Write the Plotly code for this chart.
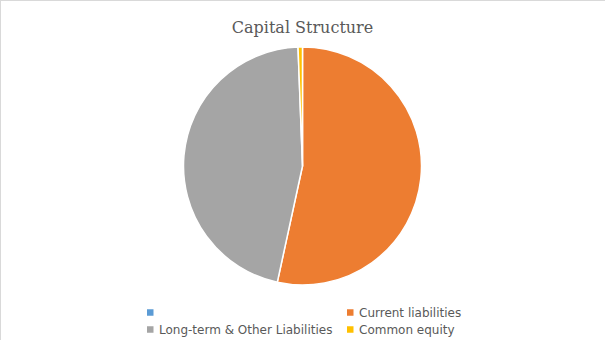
import plotly.graph_objects as go

labels = ["", "Current liabilities", "Long-term & Other Liabilities", "Common equity"]
values = [0, 53.4, 46.0, 0.6]
colors = ["#5B9BD5", "#ED7D31", "#A5A5A5", "#FFC000"]

W, H = 605, 340
T, B = 47, 55
PH = H - T - B


def px_x(px):
    return px / W


def px_y(py):
    return (H - B - py) / PH


fig = go.Figure(go.Pie(
    labels=[l if l else " " for l in labels], values=values, sort=False,
    direction="clockwise", rotation=0,
    marker=dict(colors=colors, line=dict(color="white", width=1.5)),
    textinfo="none", hoverinfo="label+value+percent", showlegend=False,
))

shapes = [
    dict(type="line", xref="paper", yref="paper", x0=px_x(0), x1=px_x(W), y0=px_y(0.5), y1=px_y(0.5),
         line=dict(color="#D9D9D9", width=1)),
    dict(type="line", xref="paper", yref="paper", x0=px_x(0.5), x1=px_x(0.5), y0=px_y(0), y1=px_y(H),
         line=dict(color="#D9D9D9", width=1)),
]
annotations = []
for i, (lab, col) in enumerate(zip(labels, colors)):
    c, r = i % 2, i // 2
    mx = 147 + 200 * c
    my = 312.5 + 17 * r
    shapes.append(dict(type="rect", xref="paper", yref="paper",
                       x0=px_x(mx), x1=px_x(mx + 6.5), y0=px_y(my - 3.25), y1=px_y(my + 3.25),
                       fillcolor=col, line=dict(width=0)))
    if lab:
        annotations.append(dict(text=lab, xref="paper", yref="paper", x=px_x(mx + 10), y=px_y(my),
                                xanchor="left", yanchor="middle", showarrow=False,
                                font=dict(family="DejaVu Sans", size=12, color="#595959")))

fig.update_layout(
    width=W, height=H,
    margin=dict(l=0, r=0, t=T, b=B),
    paper_bgcolor="white", plot_bgcolor="white",
    title=dict(text="Capital Structure", x=0.5, xanchor="center", y=1 - 27 / H, yanchor="middle",
               font=dict(family="DejaVu Serif", size=16, color="#595959")),
    showlegend=False,
    shapes=shapes,
    annotations=annotations,
)
fig.write_html("out.html")
